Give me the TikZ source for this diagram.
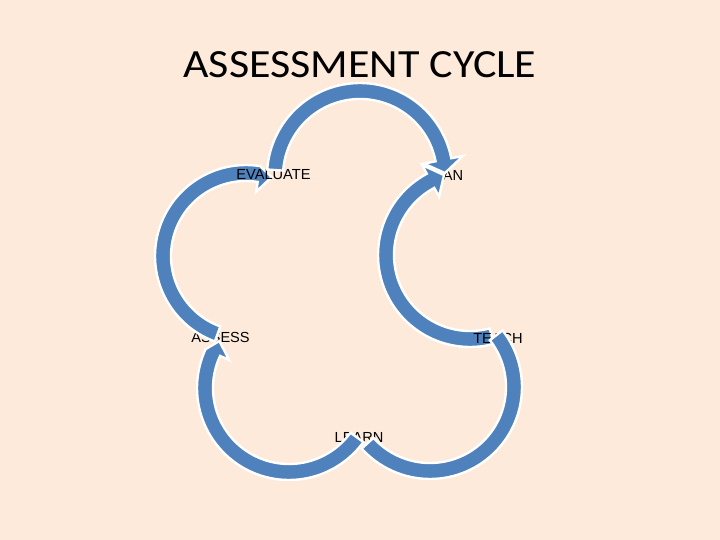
\documentclass[tikz,border=0pt]{standalone}
\usepackage{fontspec}
\setmainfont{Liberation Sans}
\newfontfamily\titlefont{Carlito}
\definecolor{bgpeach}{RGB}{253,234,218}
\definecolor{arcblue}{RGB}{79,129,189}
\tikzset{
  arrowfill/.style={fill=arcblue, draw=white, line width=2.4pt, line join=miter},
  lbl/.style={inner sep=0pt, font=\fontsize{14.6}{17}\selectfont, text=black},
}
\newcommand{\hw}{8}
% #1 cx, #2 cy, #3 R, #4 a1, #5 a2, #6 tip angle, #7 outer head ext, #8 inner head ext
\newcommand{\cycarrow}[8]{%
  \filldraw[arrowfill] plot[domain=#4:#5,samples=60] ({#1+(#3+\hw)*cos(\x)},{#2+(#3+\hw)*sin(\x)})
   -- ({#1+(#3+#7)*cos(#5)},{#2+(#3+#7)*sin(#5)})
   -- ({#1+#3*cos(#6)},{#2+#3*sin(#6)})
   -- ({#1+(#3-#8)*cos(#5)},{#2+(#3-#8)*sin(#5)})
   -- plot[domain=#5:#4,samples=60] ({#1+(#3-\hw)*cos(\x)},{#2+(#3-\hw)*sin(\x)}) -- cycle;}
\newcommand{\cycband}[5]{%
  \filldraw[arrowfill] plot[domain=#4:#5,samples=60] ({#1+(#3+\hw)*cos(\x)},{#2+(#3+\hw)*sin(\x)})
   -- plot[domain=#5:#4,samples=60] ({#1+(#3-\hw)*cos(\x)},{#2+(#3-\hw)*sin(\x)}) -- cycle;}
\begin{document}
\begin{tikzpicture}[x=1pt,y=-1pt]
\fill[bgpeach] (0,0) rectangle (720,540);
\useasboundingbox (0,0) rectangle (720,540);
\node[inner sep=0pt] (title) at (360,65) {\titlefont\fontsize{40}{48}\selectfont\scalebox{1.1}[1]{ASSESSMENT CYCLE}};
% labels lying under the arrows
\node[lbl] (assess) at (220.5,337) {ASSESS};
\node[lbl] (plan) at (444,175) {PLAN};
\node[lbl] (learn) at (359,437) {LEARN};
% arcs (lower layer)
\cycarrow{470}{255}{84}{75}{242}{252}{18}{18}
\cycarrow{246}{256}{83}{110}{279}{288}{\hw}{18}
% labels above these arcs
\node[lbl] (evaluate) at (273.5,175) {EVALUATE};
\node[lbl] (teach) at (498,338) {TEACH};
% arcs (upper layer)
\cycband{430}{387}{84}{-38}{138}
\cycarrow{289}{388}{84}{36}{205}{214}{\hw}{18}
\cycarrow{360}{176}{85}{184}{349}{358}{20}{20}
\end{tikzpicture}
\end{document}
